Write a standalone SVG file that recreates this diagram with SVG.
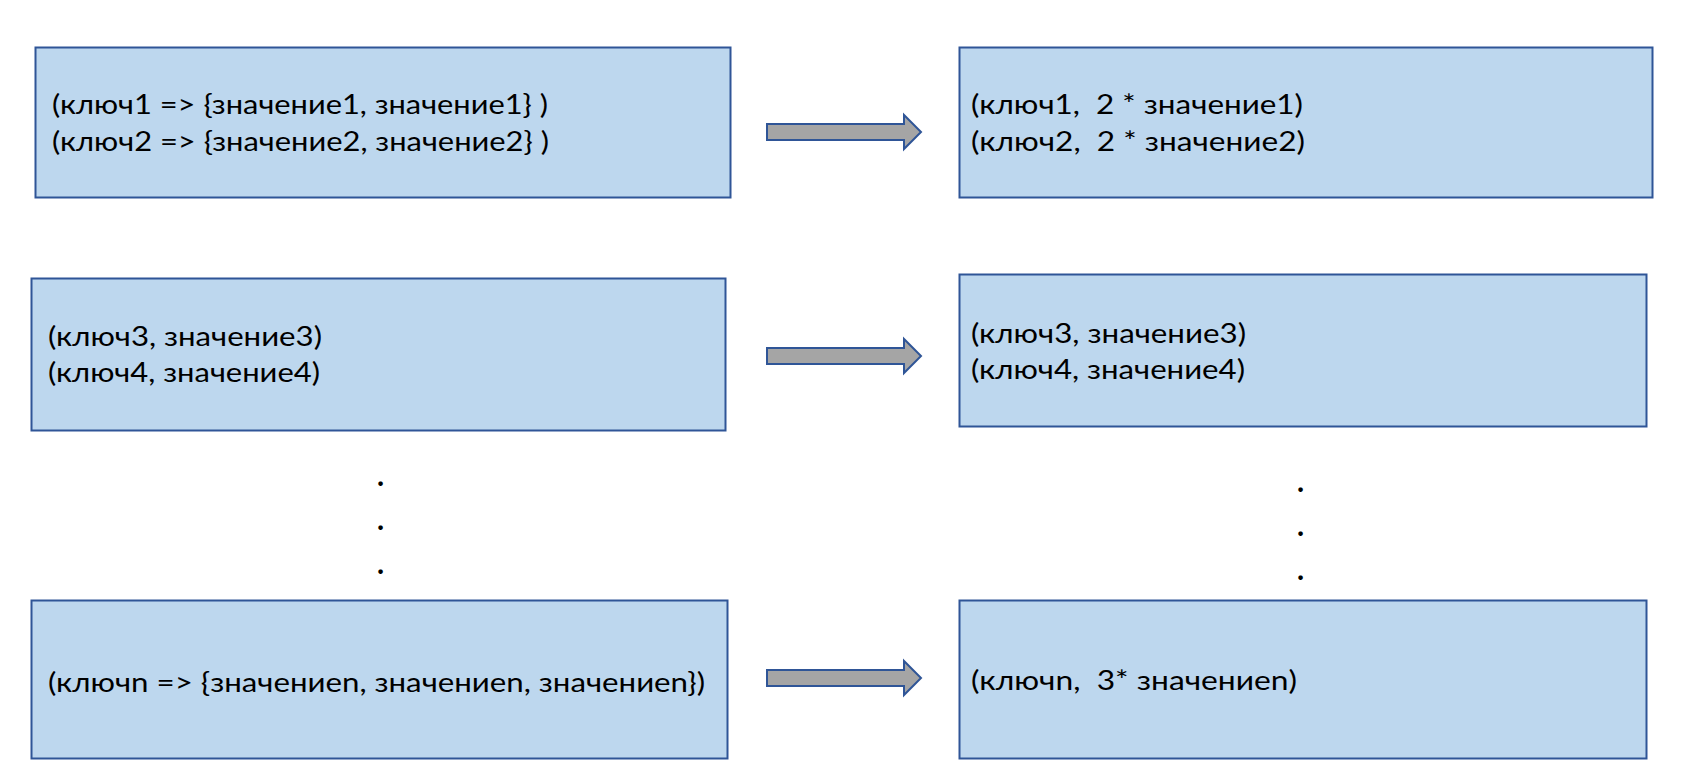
<svg xmlns="http://www.w3.org/2000/svg" width="1685" height="779" viewBox="0 0 1685 779">
  <style>
    .box { fill: #BDD7EE; stroke: #2F5597; stroke-width: 2; }
    .arrow { fill: #A5A5A5; stroke: #2F5597; stroke-width: 2; stroke-linejoin: miter; }
    .t { font-family: Lato, "Liberation Sans", sans-serif; font-size: 27px; fill: #000; white-space: pre; }
    .dot { font-family: Lato, "Liberation Sans", sans-serif; font-size: 30px; font-weight: bold; fill: #000; }
  </style>
  <rect width="1685" height="779" fill="#FFFFFF"/>

  <!-- left column: input pairs -->
  <g id="in-1">
    <rect class="box" x="35.5" y="47.5" width="695" height="150"/>
    <text class="t" x="52" y="114" textLength="496" lengthAdjust="spacingAndGlyphs">(ключ1 =&gt; {значение1, значение1} )</text>
    <text class="t" x="52" y="151" textLength="497" lengthAdjust="spacingAndGlyphs">(ключ2 =&gt; {значение2, значение2} )</text>
  </g>
  <g id="in-2">
    <rect class="box" x="31.5" y="278.5" width="694" height="152"/>
    <text class="t" x="48" y="346" textLength="274" lengthAdjust="spacingAndGlyphs">(ключ3, значение3)</text>
    <text class="t" x="48" y="382" textLength="272" lengthAdjust="spacingAndGlyphs">(ключ4, значение4)</text>
  </g>
  <g id="in-n">
    <rect class="box" x="31.5" y="600.5" width="696" height="158"/>
    <text class="t" x="48" y="692" textLength="657" lengthAdjust="spacingAndGlyphs">(ключn =&gt; {значениеn, значениеn, значениеn})</text>
  </g>

  <!-- right column: reduced results -->
  <g id="out-1">
    <rect class="box" x="959.5" y="47.5" width="693" height="150"/>
    <text class="t" x="971" y="114" textLength="332" lengthAdjust="spacingAndGlyphs" xml:space="preserve">(ключ1,  2 * значение1)</text>
    <text class="t" x="971" y="151" textLength="334" lengthAdjust="spacingAndGlyphs" xml:space="preserve">(ключ2,  2 * значение2)</text>
  </g>
  <g id="out-2">
    <rect class="box" x="959.5" y="274.5" width="687" height="152"/>
    <text class="t" x="971" y="343" textLength="275" lengthAdjust="spacingAndGlyphs">(ключ3, значение3)</text>
    <text class="t" x="971" y="379" textLength="274" lengthAdjust="spacingAndGlyphs">(ключ4, значение4)</text>
  </g>
  <g id="out-n">
    <rect class="box" x="959.5" y="600.5" width="687" height="158"/>
    <text class="t" x="971" y="690" textLength="326" lengthAdjust="spacingAndGlyphs" xml:space="preserve">(ключn,  3* значениеn)</text>
  </g>

  <!-- ellipsis between rows -->
  <g id="dots-left" class="dot">
    <text x="377" y="486">.</text>
    <text x="377" y="530">.</text>
    <text x="377" y="574">.</text>
  </g>
  <g id="dots-right" class="dot">
    <text x="1297" y="492">.</text>
    <text x="1297" y="536">.</text>
    <text x="1297" y="580">.</text>
  </g>

  <!-- block arrows -->
  <g id="connectors">
    <path class="arrow" d="M767 124 H904 V115 L921 132 L904 149 V140 H767 Z"/>
    <path class="arrow" d="M767 348 H904 V339 L921 356 L904 373 V364 H767 Z"/>
    <path class="arrow" d="M767 670 H904 V661 L921 678 L904 695 V686 H767 Z"/>
  </g>
</svg>
